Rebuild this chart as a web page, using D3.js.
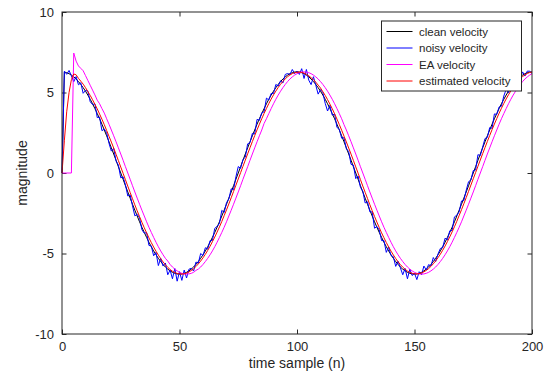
<!DOCTYPE html>
<html>
<head>
<meta charset="utf-8">
<script src="https://cdn.jsdelivr.net/npm/d3@7/dist/d3.min.js"></script>
<style>
  body { margin: 0; background: #fff; }
  text { font-family: "Liberation Sans", Arial, sans-serif; fill: #262626; }
</style>
</head>
<body>
<div id="chart-area"></div>
<script>
// values, one per time sample n = 0..200
var cleanVelocity = [0,
  6.27, 6.23, 6.17, 6.08, 5.97, 5.84, 5.68, 5.50, 5.30, 5.08,
  4.84, 4.58, 4.30, 4.00, 3.69, 3.37, 3.03, 2.67, 2.31, 1.94,
  1.56, 1.18, 0.79, 0.39, 0.00, -0.39, -0.79, -1.18, -1.56, -1.94,
  -2.31, -2.67, -3.03, -3.37, -3.69, -4.00, -4.30, -4.58, -4.84, -5.08,
  -5.30, -5.50, -5.68, -5.84, -5.97, -6.08, -6.17, -6.23, -6.27, -6.28,
  -6.27, -6.23, -6.17, -6.08, -5.97, -5.84, -5.68, -5.50, -5.30, -5.08,
  -4.84, -4.58, -4.30, -4.00, -3.69, -3.37, -3.03, -2.67, -2.31, -1.94,
  -1.56, -1.18, -0.79, -0.39, 0.00, 0.39, 0.79, 1.18, 1.56, 1.94,
  2.31, 2.67, 3.03, 3.37, 3.69, 4.00, 4.30, 4.58, 4.84, 5.08,
  5.30, 5.50, 5.68, 5.84, 5.97, 6.08, 6.17, 6.23, 6.27, 6.28,
  6.27, 6.23, 6.17, 6.08, 5.97, 5.84, 5.68, 5.50, 5.30, 5.08,
  4.84, 4.58, 4.30, 4.00, 3.69, 3.37, 3.03, 2.67, 2.31, 1.94,
  1.56, 1.18, 0.79, 0.39, 0.00, -0.39, -0.79, -1.18, -1.56, -1.94,
  -2.31, -2.67, -3.03, -3.37, -3.69, -4.00, -4.30, -4.58, -4.84, -5.08,
  -5.30, -5.50, -5.68, -5.84, -5.97, -6.08, -6.17, -6.23, -6.27, -6.28,
  -6.27, -6.23, -6.17, -6.08, -5.97, -5.84, -5.68, -5.50, -5.30, -5.08,
  -4.84, -4.58, -4.30, -4.00, -3.69, -3.37, -3.03, -2.67, -2.31, -1.94,
  -1.56, -1.18, -0.79, -0.39, 0.00, 0.39, 0.79, 1.18, 1.56, 1.94,
  2.31, 2.67, 3.03, 3.37, 3.69, 4.00, 4.30, 4.58, 4.84, 5.08,
  5.30, 5.50, 5.68, 5.84, 5.97, 6.08, 6.17, 6.23, 6.27, 6.28];

var noisyVelocity = [0,
  6.32, 6.13, 6.37, 6.03, 5.67, 5.99, 5.48, 5.60, 4.95, 5.13,
  5.09, 4.43, 4.25, 4.30, 3.44, 3.47, 2.63, 2.72, 2.51, 1.84,
  1.36, 1.53, 0.74, 0.49, -0.30, -0.24, -0.74, -1.43, -1.36, -2.04,
  -2.66, -2.57, -2.78, -3.52, -3.74, -3.70, -4.50, -4.53, -5.14, -4.93,
  -5.75, -5.30, -5.78, -5.59, -6.32, -6.03, -6.57, -5.93, -6.72, -6.13,
  -6.67, -6.03, -6.52, -5.98, -5.92, -6.09, -5.53, -5.60, -5.00, -5.13,
  -4.64, -4.73, -4.20, -4.20, -3.44, -3.32, -3.13, -2.32, -2.46, -1.84,
  -1.61, -0.98, -1.04, -0.24, 0.40, 0.29, 0.84, 0.98, 1.81, 1.89,
  2.46, 2.42, 3.33, 3.27, 3.74, 3.80, 4.65, 4.53, 4.94, 4.93,
  5.50, 5.40, 5.73, 5.59, 6.12, 6.18, 6.12, 6.43, 6.17, 6.33,
  6.12, 6.48, 5.87, 6.43, 5.77, 5.49, 5.98, 5.45, 4.90, 5.18,
  4.99, 4.33, 3.85, 4.20, 3.59, 3.67, 2.83, 2.72, 2.16, 2.19,
  1.51, 1.33, 0.54, 0.49, -0.35, -0.19, -0.89, -1.13, -1.86, -1.79,
  -2.41, -2.42, -3.43, -3.32, -3.54, -4.20, -4.20, -4.93, -4.59, -5.13,
  -5.20, -5.80, -5.48, -5.89, -6.32, -5.93, -6.57, -5.98, -6.37, -6.23,
  -6.62, -6.13, -6.32, -5.78, -6.02, -5.69, -5.78, -5.25, -5.50, -5.03,
  -4.69, -4.63, -4.05, -4.15, -3.59, -3.57, -2.73, -2.62, -2.41, -1.74,
  -1.71, -1.08, -0.54, -0.44, 0.15, 0.19, 1.14, 1.08, 1.61, 2.14,
  2.21, 2.82, 2.78, 3.67, 3.64, 4.10, 4.15, 4.78, 5.19, 4.98,
  5.35, 5.65, 5.48, 5.94, 5.92, 6.28, 6.02, 6.33, 6.32, 6.18];

var eaVelocity = [0,
  0, 0, 0, 0, 7.45, 6.95, 6.65, 6.50, 6.35, 6.05,
  5.75, 5.45, 5.15, 4.85, 4.52, 4.30, 4.00, 3.72, 3.37, 3.03,
  2.67, 2.31, 1.94, 1.56, 1.18, 0.79, 0.39, 0.00, -0.39, -0.79,
  -1.18, -1.56, -1.94, -2.31, -2.67, -3.03, -3.37, -3.69, -4.00, -4.30,
  -4.58, -4.84, -5.08, -5.30, -5.47, -5.68, -5.84, -5.97, -6.08, -6.17,
  -6.23, -6.27, -6.28, -6.27, -6.23, -6.17, -6.05, -5.97, -5.84, -5.68,
  -5.50, -5.30, -5.08, -4.84, -4.58, -4.30, -4.00, -3.69, -3.37, -3.03,
  -2.67, -2.31, -1.94, -1.56, -1.18, -0.79, -0.39, 0.00, 0.39, 0.79,
  1.18, 1.56, 1.94, 2.31, 2.67, 3.08, 3.37, 3.69, 4.00, 4.30,
  4.58, 4.84, 5.08, 5.30, 5.50, 5.68, 5.84, 5.97, 6.08, 6.17,
  6.23, 6.27, 6.28, 6.27, 6.23, 6.17, 6.08, 5.97, 5.84, 5.68,
  5.50, 5.30, 5.08, 4.84, 4.58, 4.30, 4.00, 3.69, 3.37, 3.00,
  2.67, 2.31, 1.94, 1.56, 1.18, 0.79, 0.39, 0.00, -0.39, -0.79,
  -1.18, -1.56, -1.94, -2.31, -2.67, -3.03, -3.37, -3.69, -4.00, -4.30,
  -4.58, -4.84, -5.08, -5.30, -5.50, -5.68, -5.84, -5.97, -6.08, -6.17,
  -6.23, -6.27, -6.28, -6.27, -6.23, -6.17, -6.08, -5.97, -5.84, -5.68,
  -5.50, -5.30, -5.08, -4.84, -4.58, -4.30, -4.00, -3.69, -3.37, -3.03,
  -2.67, -2.31, -1.94, -1.56, -1.18, -0.79, -0.39, 0.00, 0.39, 0.79,
  1.18, 1.56, 1.94, 2.31, 2.67, 3.03, 3.37, 3.69, 4.00, 4.30,
  4.58, 4.84, 5.08, 5.30, 5.50, 5.68, 5.84, 5.97, 6.08, 6.17];

var estimatedVelocity = [0,
  2.00, 3.80, 5.00, 5.80, 6.15, 6.10, 5.88, 5.70, 5.52, 5.30,
  5.06, 4.82, 4.55, 4.27, 3.98, 3.66, 3.34, 3.00, 2.64, 2.28,
  1.92, 1.55, 1.16, 0.77, 0.37, -0.02, -0.42, -0.82, -1.21, -1.60,
  -1.98, -2.35, -2.71, -3.06, -3.40, -3.72, -4.03, -4.32, -4.60, -4.86,
  -5.10, -5.32, -5.52, -5.70, -5.86, -5.99, -6.10, -6.18, -6.24, -6.27,
  -6.28, -6.26, -6.22, -6.15, -6.06, -5.95, -5.81, -5.65, -5.47, -5.27,
  -5.05, -4.81, -4.55, -4.27, -3.98, -3.67, -3.35, -3.01, -2.65, -2.29,
  -1.92, -1.54, -1.15, -0.76, -0.37, 0.02, 0.41, 0.80, 1.19, 1.57,
  1.95, 2.32, 2.68, 3.03, 3.37, 3.70, 4.01, 4.31, 4.59, 4.85,
  5.09, 5.31, 5.51, 5.69, 5.85, 5.98, 6.09, 6.17, 6.23, 6.26,
  6.27, 6.25, 6.20, 6.13, 6.04, 5.92, 5.80, 5.64, 5.46, 5.28,
  5.05, 4.82, 4.56, 4.28, 3.99, 3.68, 3.35, 3.01, 2.66, 2.29,
  1.93, 1.55, 1.17, 0.78, 0.38, -0.01, -0.41, -0.81, -1.20, -1.58,
  -1.97, -2.34, -2.70, -3.05, -3.39, -3.72, -4.02, -4.32, -4.59, -4.85,
  -5.09, -5.31, -5.51, -5.69, -5.85, -5.98, -6.09, -6.17, -6.23, -6.26,
  -6.27, -6.25, -6.21, -6.14, -6.05, -5.94, -5.80, -5.64, -5.46, -5.26,
  -5.04, -4.80, -4.54, -4.26, -3.97, -3.66, -3.34, -3.00, -2.64, -2.28,
  -1.91, -1.53, -1.14, -0.75, -0.36, 0.03, 0.42, 0.81, 1.20, 1.58,
  1.96, 2.33, 2.69, 3.04, 3.38, 3.71, 4.02, 4.32, 4.60, 4.86,
  5.10, 5.32, 5.52, 5.70, 5.86, 5.99, 6.10, 6.18, 6.24, 6.27];

var xTicks = [0, 50, 100, 150, 200];
var yTicks = [-10, -5, 0, 5, 10];
var seriesNames = ["clean velocity", "noisy velocity", "EA velocity", "estimated velocity"];
var seriesColors = ["#000000", "#0000ff", "#ff00ff", "#ff0000"];

var margin = { left: 62, right: 16, top: 12, bottom: 42 };
var width = 548 - margin.left - margin.right,
    height = 376 - margin.top - margin.bottom;

var svg = d3.select("#chart-area")
    .append("svg")
    .attr("width", 548)
    .attr("height", 376);
svg.append("rect").attr("width", 548).attr("height", 376).attr("fill", "#fff");

var g = svg.append("g")
    .attr("transform", "translate(" + margin.left + "," + margin.top + ")");

// Scales
var x = d3.scaleLinear().domain([0, 200]).range([0, width]);
var y = d3.scaleLinear().domain([-10, 10]).range([height, 0]);

// plain hyphen minus, like the original
var plain = function(d) { return String(d); };

// Axes with inward ticks, mirrored on top and right
var tickLen = 4.5;
g.append("g")
    .attr("class", "x axis")
    .attr("transform", "translate(0," + height + ")")
    .call(d3.axisBottom(x).tickValues(xTicks).tickFormat(plain)
        .tickSizeInner(-tickLen).tickSizeOuter(0).tickPadding(8));
g.append("g")
    .attr("class", "x axis top")
    .call(d3.axisTop(x).tickValues(xTicks).tickFormat("")
        .tickSizeInner(-tickLen).tickSizeOuter(0));
g.append("g")
    .attr("class", "y axis")
    .call(d3.axisLeft(y).tickValues(yTicks).tickFormat(plain)
        .tickSizeInner(-tickLen).tickSizeOuter(0).tickPadding(8));
g.append("g")
    .attr("class", "y axis right")
    .attr("transform", "translate(" + width + ",0)")
    .call(d3.axisRight(y).tickValues(yTicks).tickFormat("")
        .tickSizeInner(-tickLen).tickSizeOuter(0));

g.selectAll(".axis .domain").remove();
g.selectAll(".axis line").attr("stroke", "#262626");
g.selectAll(".axis text").attr("font-size", "13px").attr("fill", "#262626");

// Lines
var line = d3.line()
    .x(function(d, i) { return x(i); })
    .y(function(d) { return y(d); });

var allSeries = [cleanVelocity, noisyVelocity, eaVelocity, estimatedVelocity];
g.selectAll(".series")
    .data(allSeries)
    .enter()
    .append("path")
    .attr("class", "series")
    .attr("fill", "none")
    .attr("stroke", function(d, i) { return seriesColors[i]; })
    .attr("stroke-width", 1)
    .attr("stroke-linejoin", "round")
    .attr("d", line);

// Frame
g.append("rect")
    .attr("width", width)
    .attr("height", height)
    .attr("fill", "none")
    .attr("stroke", "#262626")
    .attr("stroke-width", 1);

// Labels
g.append("text")
    .attr("x", width / 2)
    .attr("y", height + 34)
    .attr("font-size", "14px")
    .attr("text-anchor", "middle")
    .text("time sample (n)");
g.append("text")
    .attr("transform", "rotate(-90)")
    .attr("x", -y(0))
    .attr("y", -35)
    .attr("font-size", "14px")
    .attr("text-anchor", "middle")
    .text("magnitude");

// Legend
var legend = g.append("g")
    .attr("transform", "translate(" + (381.5 - margin.left) + "," + (21 - margin.top) + ")");
legend.append("rect")
    .attr("width", 140)
    .attr("height", 70)
    .attr("fill", "#fff")
    .attr("stroke", "#262626")
    .attr("stroke-width", 1);
var items = legend.selectAll(".item")
    .data(seriesNames)
    .enter()
    .append("g")
    .attr("class", "item")
    .attr("transform", function(d, i) { return "translate(0," + (10.5 + i * 16.5) + ")"; });
items.append("line")
    .attr("x1", 5).attr("x2", 31)
    .attr("stroke", function(d, i) { return seriesColors[i]; })
    .attr("stroke-width", 1);
items.append("text")
    .attr("x", 37.5)
    .attr("dy", "0.35em")
    .attr("font-size", "11.5px")
    .text(function(d) { return d; });
</script>
</body>
</html>
